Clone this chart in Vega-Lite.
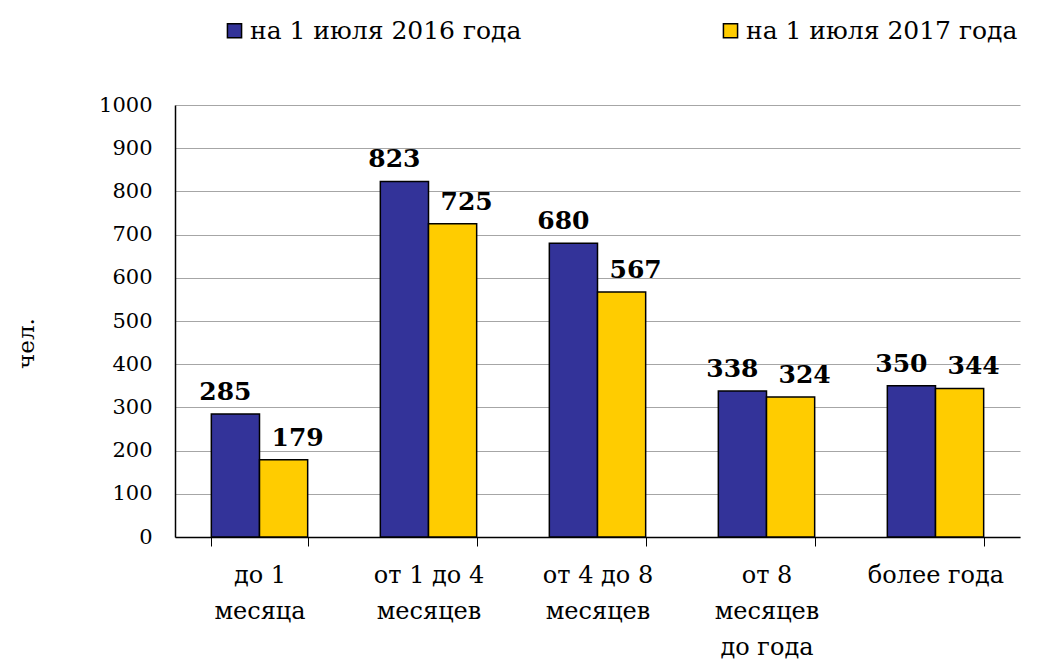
{
  "$schema": "https://vega.github.io/schema/vega-lite/v6.json",
  "width": 845,
  "height": 432,
  "autosize": "none",
  "padding": {"left": 175, "top": 105, "right": 29, "bottom": 125},
  "background": "white",
  "config": {
    "font": "DejaVu Serif",
    "view": {"stroke": null},
    "axis": {"labelFont": "DejaVu Serif", "titleFont": "DejaVu Serif"},
    "legend": {"labelFont": "DejaVu Serif"},
    "text": {"font": "DejaVu Serif"}
  },
  "data": {
    "values": [
      {"cat": "до 1\nмесяца", "series": "на 1 июля 2016 года", "value": 285},
      {"cat": "до 1\nмесяца", "series": "на 1 июля 2017 года", "value": 179},
      {"cat": "от 1 до 4\nмесяцев", "series": "на 1 июля 2016 года", "value": 823},
      {"cat": "от 1 до 4\nмесяцев", "series": "на 1 июля 2017 года", "value": 725},
      {"cat": "от 4 до 8\nмесяцев", "series": "на 1 июля 2016 года", "value": 680},
      {"cat": "от 4 до 8\nмесяцев", "series": "на 1 июля 2017 года", "value": 567},
      {"cat": "от 8\nмесяцев\nдо года", "series": "на 1 июля 2016 года", "value": 338},
      {"cat": "от 8\nмесяцев\nдо года", "series": "на 1 июля 2017 года", "value": 324},
      {"cat": "более года", "series": "на 1 июля 2016 года", "value": 350},
      {"cat": "более года", "series": "на 1 июля 2017 года", "value": 344}
    ]
  },
  "encoding": {
    "x": {
      "field": "cat",
      "type": "nominal",
      "sort": null,
      "scale": {"paddingInner": 0.43, "paddingOuter": 0.215},
      "axis": {
        "title": null,
        "labelAngle": 0,
        "labelExpr": "datum.value ? split(datum.value, '\\n') : ''",
        "labelFont": "DejaVu Serif",
        "labelFontSize": 24,
        "labelColor": "black",
        "labelLineHeight": 36,
        "labelPadding": 17,
        "labelBaseline": "top",
        "tickBand": "extent",
        "tickSize": 9,
        "tickColor": "black",
        "domainColor": "black",
        "domainWidth": 1.5,
        "grid": false
      }
    },
    "xOffset": {"field": "series", "type": "nominal"},
    "y": {
      "field": "value",
      "type": "quantitative",
      "scale": {"domain": [0, 1000]},
      "axis": {
        "title": "чел.",
        "titleFont": "DejaVu Serif",
        "titleFontSize": 23,
        "titleFontWeight": "normal",
        "titleColor": "black",
        "titleX": -142,
        "titleY": 238,
        "titleBaseline": "alphabetic",
        "titleAlign": "center",
        "format": "d",
        "values": [0, 100, 200, 300, 400, 500, 600, 700, 800, 900, 1000],
        "labelFont": "DejaVu Serif",
        "labelFontSize": 21,
        "labelColor": "black",
        "labelPadding": 23,
        "ticks": false,
        "domainColor": "black",
        "domainWidth": 1.5,
        "gridColor": "#a6a6a6",
        "gridWidth": 1.2
      }
    }
  },
  "layer": [
    {
      "mark": {"type": "bar", "stroke": "black", "strokeWidth": 1.5},
      "encoding": {
        "color": {
          "field": "series",
          "type": "nominal",
          "scale": {"range": ["#333399", "#FFCC00"]},
          "legend": {
            "title": null,
            "orient": "none",
            "direction": "horizontal",
            "legendX": 47,
            "legendY": -87,
            "labelFont": "DejaVu Serif",
            "labelFontSize": 25,
            "labelColor": "black",
            "labelLimit": 400,
            "symbolType": "square",
            "symbolSize": 200,
            "symbolStrokeColor": "black",
            "symbolStrokeWidth": 1.5,
            "columnPadding": 196,
            "labelOffset": 3
          }
        }
      }
    },
    {
      "transform": [{"filter": "datum.series == 'на 1 июля 2016 года'"}],
      "mark": {"type": "text", "font": "DejaVu Serif", "fontWeight": "bold", "fontSize": 25, "dy": -22, "dx": -10, "color": "black"},
      "encoding": {
        "text": {"field": "value", "type": "quantitative"}
      }
    },
    {
      "transform": [{"filter": "datum.series == 'на 1 июля 2017 года'"}],
      "mark": {"type": "text", "font": "DejaVu Serif", "fontWeight": "bold", "fontSize": 25, "dy": -22, "dx": 14, "color": "black"},
      "encoding": {
        "text": {"field": "value", "type": "quantitative"}
      }
    }
  ]
}
